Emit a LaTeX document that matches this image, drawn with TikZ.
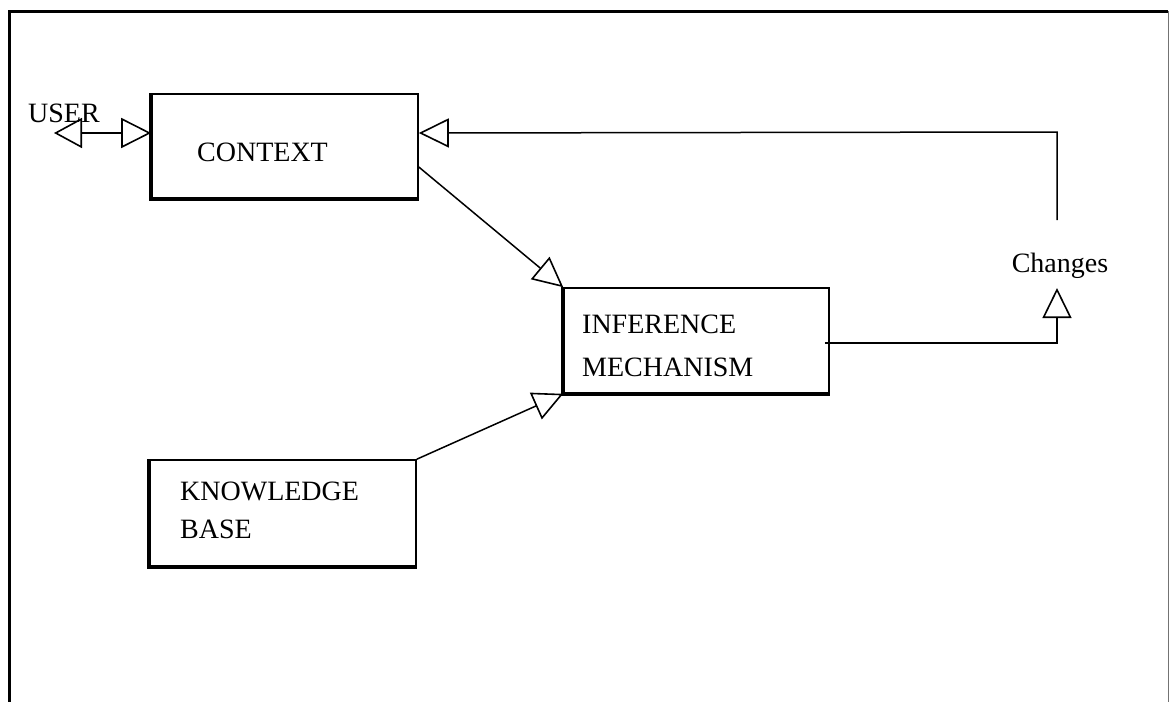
\documentclass[tikz,border=0pt]{standalone}
\usepackage{fontspec}
\setmainfont{Liberation Serif}
\usetikzlibrary{arrows.meta}
\begin{document}
\begin{tikzpicture}[x=1pt,y=-1pt,
  box/.style={draw,line width=1.6pt,minimum width=#1,inner sep=0pt},
  lbl/.style={anchor=base west,inner sep=0pt,font=\fontsize{28}{34}\selectfont},
  conn/.style={line width=1.5pt},
  tip/.style={-{Triangle[open,length=30pt,width=29pt,line width=1.6pt]}}]
\useasboundingbox (0,0) rectangle (1171,702);
% frame
\draw[line width=3pt] (9,702) -- (9,11) -- (1168,11);
\draw[line width=1pt,black!55] (1168,11) -- (1168,702);
% boxes
\node[box=266pt,minimum height=104pt] (ctx) at (285,146) {};
\node[box=265pt,minimum height=105pt] (inf) at (696.5,340.5) {};
\node[box=266pt,minimum height=106pt] (kb) at (283,513) {};
% shadows (thicker left/bottom edges)
\foreach \b in {ctx,inf,kb}{
  \draw[line width=3.6pt] (\b.north west) -- (\b.south west) -- (\b.south east);
}
% texts
\node[lbl] (ctxt) at (197,161) {CONTEXT};
\node[lbl] (inft1) at (582,333) {INFERENCE};
\node[lbl] (inft2) at (582,376) {MECHANISM};
\node[lbl] (kbt1) at (180,500) {KNOWLEDGE};
\node[lbl] (kbt2) at (180,538) {BASE};
\node[lbl] (user) at (28,122) {USER};
\node[lbl,anchor=base] (chg) at (1060,272) {Changes};
% connectors
\coordinate (uend) at (54,133);
\draw[conn,{Triangle[open,length=28pt,width=30pt,line width=1.6pt]}-{Triangle[open,length=30pt,width=30pt,line width=1.6pt]}] (uend) -- ([yshift=13pt]ctx.west);
\draw[conn,tip] ([yshift=-21pt]ctx.east) -- (inf.north west);
\draw[conn,tip] (kb.north east) -- (inf.south west);
\coordinate (c1) at (1057,343);
\coordinate (c2) at (1057,288);
\coordinate (c3) at (1057,220);
\coordinate (c4) at (1057,132);
\draw[conn,tip] ([xshift=-5pt,yshift=-2.5pt]inf.east) -- (c1) -- (c2);
\draw[conn,tip] (c3) -- (c4) -- ([yshift=13pt]ctx.east);
\end{tikzpicture}
\end{document}
